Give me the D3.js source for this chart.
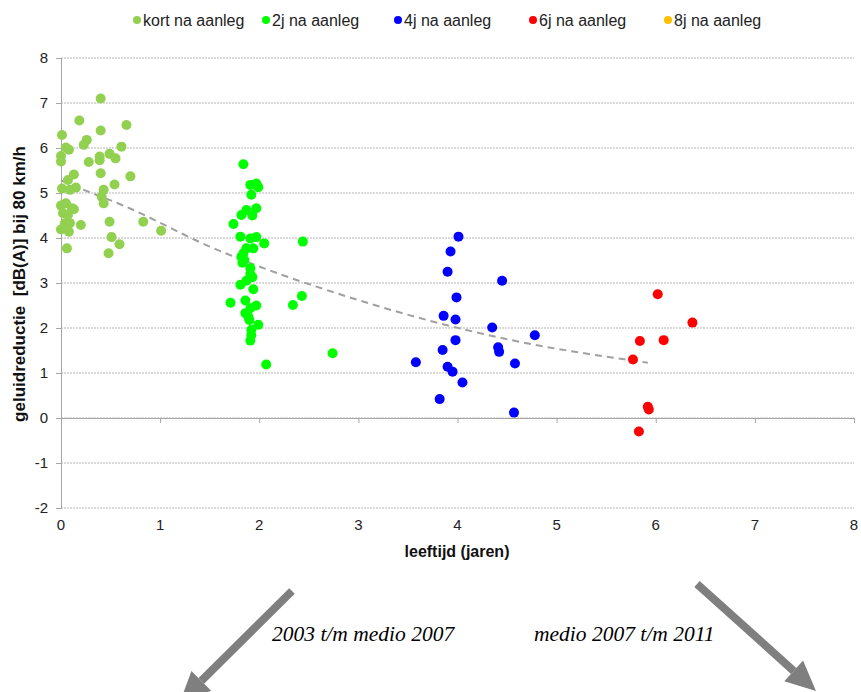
<!DOCTYPE html>
<html><head><meta charset="utf-8">
<script src="https://cdn.jsdelivr.net/npm/d3@7"></script>
<style>body{margin:0;background:#fff;} svg{display:block;font-family:"Liberation Sans",Arial,sans-serif;}</style>
</head><body>
<svg id="c" width="861" height="692"></svg>
<script>
const seriesNames = ["kort na aanleg","2j na aanleg","4j na aanleg","6j na aanleg","8j na aanleg"];
const seriesColors = ["#92D050","#00FF00","#0000FF","#FF0000","#FFC000"];
const xTicks = [0,1,2,3,4,5,6,7,8];
const yTicks = [-2,-1,0,1,2,3,4,5,6,7,8];

const kortX = [0.40,0.185,0.66,0.01,0.40,0.26,0.23,0.05,0.08,0.61,0.00,0.00,0.28,0.39,0.39,0.49,0.55,0.40,0.13,0.70,0.54,0.07,0.01,0.15,0.09,0.43,0.41,0.43,0.00,0.05,0.11,0.13,0.02,0.07,0.83,0.49,0.20,0.04,0.09,0.00,0.08,1.01,0.51,0.59,0.06,0.48];
const kortY = [7.10,6.61,6.51,6.29,6.39,6.18,6.07,6.01,5.96,6.03,5.82,5.70,5.69,5.81,5.73,5.87,5.77,5.44,5.41,5.37,5.19,5.29,5.10,5.12,5.07,5.07,4.92,4.77,4.72,4.77,4.66,4.64,4.55,4.51,4.36,4.36,4.29,4.33,4.33,4.19,4.14,4.16,4.02,3.86,3.77,3.66];

const j2X = [1.84,1.91,1.97,1.99,1.92,1.97,1.87,1.82,1.93,1.74,1.81,1.91,1.97,2.05,2.44,1.87,1.94,1.84,1.82,1.85,1.83,1.91,1.91,1.93,1.87,1.81,1.94,1.86,1.71,1.97,1.91,2.34,2.43,1.86,1.89,1.90,1.99,1.92,1.92,1.91,2.74,2.07];
const j2Y = [5.64,5.18,5.21,5.13,4.96,4.66,4.62,4.51,4.50,4.31,4.03,3.99,4.02,3.88,3.92,3.77,3.77,3.66,3.58,3.51,3.45,3.33,3.20,3.13,3.05,2.96,2.86,2.61,2.56,2.50,2.44,2.51,2.71,2.33,2.25,2.18,2.07,1.96,1.84,1.72,1.44,1.19];

const j4X = [4.01,3.93,3.90,4.45,3.99,3.86,3.98,4.35,4.78,3.98,4.41,4.42,3.85,3.58,4.58,3.90,3.95,4.05,3.82,4.57];
const j4Y = [4.03,3.70,3.25,3.05,2.68,2.27,2.19,2.01,1.84,1.73,1.57,1.47,1.51,1.24,1.21,1.14,1.03,0.79,0.42,0.12];

const j6X = [6.02,6.37,5.84,6.08,5.77,5.92,5.93,5.83];
const j6Y = [2.75,2.12,1.71,1.73,1.30,0.25,0.19,-0.30];

const j8X = [];
const j8Y = [];

const trendX = [0,0.23,0.63,1.5,3.0,4.5,5.92];
const trendY = [5.28,5.07,4.72,3.81,2.62,1.75,1.23];

const allX = [kortX,j2X,j4X,j6X,j8X];
const allY = [kortY,j2Y,j4Y,j6Y,j8Y];

const svg = d3.select("#c");
const x = d3.scaleLinear().domain([0,8]).range([61,854]);
const y = d3.scaleLinear().domain([-2,8]).range([508,58]);

// gridlines
svg.append("g").selectAll("line").data(yTicks).join("line")
  .attr("x1",x(0)).attr("x2",x(8)).attr("y1",d=>y(d)).attr("y2",d=>y(d))
  .attr("stroke","#b4b4b4").attr("stroke-width",1).attr("stroke-dasharray","2,1");

// y axis
const ya = svg.append("g").attr("transform",`translate(${x(0)},0)`)
  .call(d3.axisLeft(y).tickValues(yTicks).tickSize(5).tickPadding(8).tickFormat(d=>String(d)));
ya.select(".domain").attr("stroke","#a6a6a6");
ya.selectAll(".tick line").attr("stroke","#a6a6a6");
ya.selectAll("text").attr("font-size","15px").attr("fill","#222").attr("font-family","Liberation Sans, Arial");

// x axis line at y=0 with ticks
const xa = svg.append("g").attr("transform",`translate(0,${y(0)})`)
  .call(d3.axisBottom(x).tickValues(xTicks).tickSize(5).tickFormat(""));
xa.select(".domain").attr("stroke","#a6a6a6");
xa.selectAll(".tick line").attr("stroke","#a6a6a6");
// x tick labels at bottom
svg.append("g").selectAll("text").data(xTicks).join("text")
  .attr("x",d=>x(d)).attr("y",530).attr("text-anchor","middle")
  .attr("font-size","15px").attr("fill","#222").text(d=>d);

// trend line
svg.append("path")
  .datum(trendX.map((d,i)=>[d,trendY[i]]))
  .attr("d", d3.line().x(d=>x(d[0])).y(d=>y(d[1])).curve(d3.curveMonotoneX))
  .attr("fill","none").attr("stroke","#a0a0a0").attr("stroke-width",2).attr("stroke-dasharray","7,5");

// points
allX.forEach((xs,si)=>{
  svg.append("g").selectAll("circle").data(xs.map((d,i)=>[d,allY[si][i]])).join("circle")
    .attr("cx",d=>x(d[0])).attr("cy",d=>y(d[1])).attr("r",5)
    .attr("fill",seriesColors[si]);
});

// legend
const legX = [137,266,398,533,668];
seriesNames.forEach((n,i)=>{
  svg.append("circle").attr("cx",legX[i]).attr("cy",20).attr("r",4).attr("fill",seriesColors[i]);
  svg.append("text").attr("x",legX[i]+6).attr("y",25.5).attr("font-size","16px").attr("fill","#222").text(n);
});

// axis titles
svg.append("text").attr("transform","translate(25,284) rotate(-90)").attr("text-anchor","middle")
  .attr("font-size","17px").attr("font-weight","bold").attr("fill","#111")
  .style("white-space","pre")
  .text("geluidreductie  [dB(A)] bij 80 km/h");
svg.append("text").attr("x",457).attr("y",557).attr("text-anchor","middle")
  .attr("font-size","16px").attr("font-weight","bold").attr("fill","#111")
  .text("leeftijd (jaren)");

// arrows
function arrow(x1,y1,x2,y2){
  const ang = Math.atan2(y2-y1,x2-x1);
  const hl = 30, hw = 14;
  const bx = x2 - hl*Math.cos(ang), by = y2 - hl*Math.sin(ang);
  svg.append("line").attr("x1",x1).attr("y1",y1).attr("x2",bx).attr("y2",by)
    .attr("stroke","#7f7f7f").attr("stroke-width",8);
  const px = -Math.sin(ang), py = Math.cos(ang);
  svg.append("path").attr("d",`M${x2},${y2}L${bx+px*hw},${by+py*hw}L${bx-px*hw},${by-py*hw}Z`)
    .attr("fill","#7f7f7f");
}
arrow(292,591,180,702);
arrow(697,584,816,691);

svg.append("text").attr("x",272).attr("y",641).attr("font-family","Liberation Serif, Times New Roman, serif")
  .attr("font-style","italic").attr("font-size","21.5px").attr("fill","#000").text("2003 t/m medio 2007");
svg.append("text").attr("x",534).attr("y",641).attr("font-family","Liberation Serif, Times New Roman, serif")
  .attr("font-style","italic").attr("font-size","21.5px").attr("fill","#000").text("medio 2007 t/m 2011");
</script>
</body></html>
